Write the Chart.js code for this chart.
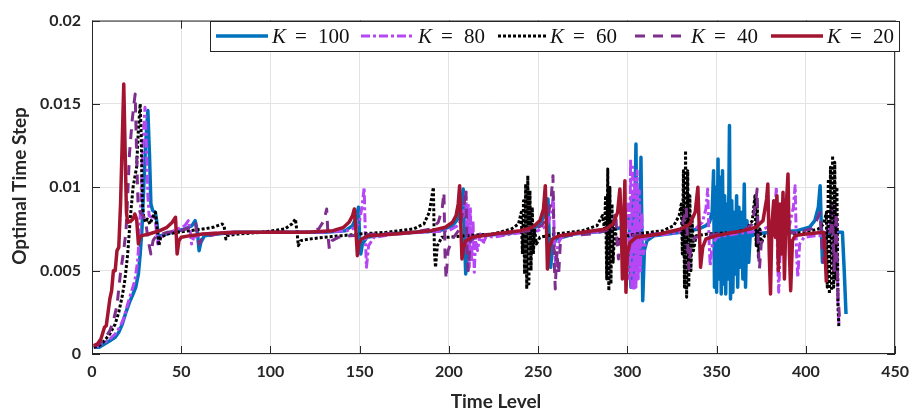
<!DOCTYPE html>
<html>
<head>
<meta charset="utf-8">
<script src="https://cdn.jsdelivr.net/npm/chart.js@4.4.1/dist/chart.umd.min.js"></script>
<style>
  html, body { margin: 0; padding: 0; background: #fff; }
  #wrap { width: 917px; height: 413px; position: relative; }
</style>
</head>
<body>
<div id="wrap"><canvas id="stepChart"></canvas></div>
<script>
// tick values and labels
const xTicks = [0, 50, 100, 150, 200, 250, 300, 350, 400, 450];
const yTicks = [0, 0.005, 0.01, 0.015, 0.02];
const yTickLabels = ["0", "0.005", "0.01", "0.015", "0.02"];
const kValues = ["100", "80", "60", "40", "20"];

// [time level, optimal time step]
const k100 = [
  [1,0.0004],[4,0.0004],[7,0.0006],[10,0.0008],[13,0.0010],[15,0.0013],[17,0.0018],[19,0.0025],
  [21,0.0031],[23,0.0036],[24.5,0.0040],[26,0.0048],[27,0.0060],[28,0.0075],[29,0.0100],[30,0.0125],
  [31.3,0.0146],[32.2,0.0120],[33,0.0090],[34,0.0086],[35.5,0.0085],[36.5,0.0078],[37.2,0.0069],
  [38.5,0.0071],[45,0.0073],[52,0.0075],[56,0.0077],[57.8,0.0080],[59,0.0074],[60,0.0062],[61,0.0067],
  [63,0.0071],[70,0.0072],[80,0.0073],[130,0.0073],[142,0.0074],[146,0.0077],[148,0.0082],[149.3,0.0088],
  [150,0.0068],[150.6,0.0060],[151.5,0.0066],[154,0.0070],[165,0.0072],[195,0.0074],[202,0.0077],
  [205,0.0081],[207,0.0088],[208,0.0099],[208.7,0.0070],[209.4,0.0048],[210.5,0.0063],[212,0.0068],
  [216,0.0071],[230,0.0072],[245,0.0074],[250,0.0077],[253,0.0082],[255.5,0.0093],[256.2,0.0070],
  [257,0.0052],[258,0.0064],[260,0.0069],[270,0.0072],[290,0.0074],[297,0.0076],[299,0.0078],
  [301,0.0082],[302,0.0040],[303,0.0095],[303.6,0.0045],[304.8,0.0126],[305.5,0.0050],[306.3,0.0090],
  [307,0.0055],[307.6,0.0118],[308.6,0.0032],[309.5,0.0062],[311,0.0068],[315,0.0071],[330,0.0073],
  [340,0.0075],[344,0.0077],[346,0.0079],[347.5,0.0085],[348.3,0.0110],[348.8,0.0040],[349.5,0.0100],
  [350,0.0037],[350.8,0.0117],[351.4,0.0045],[352,0.0106],[352.6,0.0036],[353.3,0.0110],[353.9,0.0042],
  [354.5,0.0095],[355.1,0.0036],[355.8,0.0090],[356.4,0.0045],[357.2,0.0137],[357.8,0.0033],
  [358.5,0.0092],[359.1,0.0037],[359.8,0.0085],[360.4,0.0048],[361.2,0.0095],[361.8,0.0040],
  [362.5,0.0088],[363.2,0.0052],[364,0.0085],[364.7,0.0045],[365.5,0.0102],[366.2,0.0040],
  [367,0.0080],[368,0.0055],[369,0.0075],[370,0.0071],[372,0.0072],[380,0.0073],[395,0.0074],
  [402,0.0076],[405,0.0080],[407,0.0088],[408,0.0101],[408.7,0.0075],[409.3,0.0055],[410.2,0.0066],
  [412,0.0071],[416,0.0073],[420.5,0.0073],[421.5,0.0050],[422.5,0.0024]
];

const k80 = [
  [1,0.0004],[4,0.0005],[7,0.0007],[10,0.0009],[13,0.0012],[16,0.0017],[18,0.0022],[20,0.0030],
  [22,0.0037],[24,0.0044],[25.5,0.0055],[26.5,0.0070],[27.5,0.0095],[28.5,0.0125],[29.7,0.0148],
  [30.5,0.0125],[31.3,0.0095],[32,0.0083],[33.5,0.0082],[35,0.0083],[36,0.0075],[36.8,0.0066],
  [38,0.0070],[42,0.0072],[48,0.0075],[52,0.0077],[54,0.0080],[55,0.0074],[55.8,0.0066],[57,0.0070],
  [62,0.0072],[75,0.0073],[130,0.0073],[143,0.0074],[148,0.0076],[150,0.0080],[151.5,0.0090],
  [152.5,0.0100],[153.2,0.0070],[153.8,0.0052],[155,0.0065],[158,0.0070],[170,0.0072],[200,0.0074],
  [205,0.0077],[208,0.0083],[209.5,0.0097],[210.2,0.0060],[210.8,0.0090],[211.4,0.0052],[212,0.0088],
  [212.7,0.0055],[213.5,0.0080],[214.2,0.0049],[215,0.0070],[216,0.0062],[217.5,0.0072],[219,0.0066],
  [221,0.0071],[225,0.0070],[235,0.0072],[250,0.0074],[255,0.0077],[257.5,0.0085],[258.5,0.0095],
  [259.2,0.0062],[260,0.0052],[261,0.0066],[263,0.0070],[270,0.0072],[290,0.0074],[296,0.0076],
  [299,0.0080],[300.5,0.0090],[301.2,0.0045],[301.8,0.0117],[302.4,0.0040],[303,0.0112],[303.6,0.0038],
  [304.2,0.0105],[304.8,0.0040],[305.5,0.0110],[306.1,0.0045],[306.7,0.0098],[307.3,0.0050],
  [308,0.0085],[309,0.0060],[310.5,0.0070],[315,0.0071],[330,0.0073],[338,0.0075],[342,0.0079],
  [344,0.0087],[345,0.0099],[345.7,0.0070],[346.4,0.0053],[347.5,0.0065],[350,0.0070],[360,0.0072],
  [375,0.0074],[380,0.0077],[382.5,0.0085],[383.5,0.0100],[384.2,0.0055],[384.8,0.0037],[385.8,0.0068],
  [388,0.0072],[391,0.0078],[393,0.0088],[394,0.0101],[394.8,0.0060],[395.5,0.0046],[396.5,0.0066],
  [399,0.0070],[405,0.0071],[410,0.0071],[413,0.0075],[414.5,0.0090],[415.3,0.0055],[416,0.0085],
  [416.7,0.0045],[417.3,0.0080],[418,0.0030],[418.6,0.0017]
];

const k60 = [
  [1,0.0004],[4,0.0005],[7,0.0008],[10,0.0012],[13,0.0018],[15,0.0025],[17,0.0035],[18.5,0.0045],
  [20,0.0060],[21.5,0.0082],[23,0.0100],[25,0.0112],[26,0.0135],[27,0.0150],[27.6,0.0130],[28.2,0.0090],
  [29,0.0082],[30,0.0079],[31,0.0081],[32.5,0.0078],[34,0.0082],[35.5,0.0085],[36.5,0.0075],
  [37.5,0.0065],[38.5,0.0070],[42,0.0072],[48,0.0073],[55,0.0074],[62,0.0075],[68,0.0076],[73,0.0078],
  [74,0.0077],[75,0.0069],[76,0.0071],[82,0.0072],[95,0.0073],[108,0.0075],[112,0.0078],[114,0.0081],
  [115,0.0072],[115.6,0.0065],[117,0.0068],[122,0.0069],[130,0.0070],[140,0.0071],[150,0.0072],
  [165,0.0073],[180,0.0075],[186,0.0078],[189,0.0085],[190.5,0.0095],[191.3,0.0100],[191.9,0.0060],
  [192.5,0.0052],[193.5,0.0065],[196,0.0070],[200,0.0070],[210,0.0071],[225,0.0072],[235,0.0075],
  [239,0.0078],[240.5,0.0085],[241.2,0.0060],[241.8,0.0092],[242.4,0.0048],[243,0.0102],[243.6,0.0039],
  [244.2,0.0107],[244.8,0.0042],[245.4,0.0098],[246,0.0050],[246.7,0.0088],[247.3,0.0060],[248,0.0075],
  [249,0.0066],[251,0.0070],[260,0.0072],[275,0.0074],[283,0.0077],[286,0.0083],[287.2,0.0075],
  [287.8,0.0095],[288.4,0.0045],[289,0.0111],[289.6,0.0038],[290.2,0.0100],[290.8,0.0042],[291.4,0.0090],
  [292,0.0055],[293,0.0078],[294,0.0066],[296,0.0070],[305,0.0072],[320,0.0074],[326,0.0077],
  [329,0.0083],[330.2,0.0090],[330.8,0.0060],[331.4,0.0110],[332,0.0040],[332.6,0.0122],[333.2,0.0034],
  [333.8,0.0110],[334.4,0.0040],[335,0.0095],[335.6,0.0050],[336.3,0.0080],[337,0.0062],[338.5,0.0071],
  [345,0.0072],[360,0.0073],[367,0.0075],[370,0.0080],[371.5,0.0095],[372.2,0.0065],[372.8,0.0090],
  [373.4,0.0058],[374.2,0.0075],[375,0.0067],[377,0.0071],[390,0.0072],[400,0.0073],[407,0.0075],
  [410,0.0078],[411.5,0.0085],[412,0.0040],[412.6,0.0105],[413.2,0.0036],[413.8,0.0112],[414.4,0.0038],
  [415,0.0119],[415.6,0.0040],[416.2,0.0115],[416.8,0.0045],[417.4,0.0100],[418,0.0030],[418.5,0.0016]
];

const k40 = [
  [1,0.0005],[4,0.0006],[7,0.0009],[10,0.0014],[12,0.0020],[14,0.0029],[16,0.0049],[17.5,0.0060],
  [19,0.0073],[20,0.0095],[21,0.0120],[22.5,0.0140],[23.5,0.0150],[24.2,0.0156],[25,0.0120],
  [25.8,0.0090],[27,0.0085],[28.5,0.0083],[30,0.0080],[31.5,0.0068],[33,0.0060],[34.2,0.0068],
  [36,0.0071],[42,0.0073],[50,0.0074],[55,0.0076],[58,0.0079],[59,0.0070],[60,0.0066],[62,0.0070],
  [70,0.0072],[90,0.0073],[120,0.0073],[127,0.0075],[130,0.0080],[131.5,0.0087],[132.3,0.0070],
  [133,0.0063],[134.5,0.0068],[138,0.0070],[145,0.0071],[160,0.0072],[180,0.0073],[190,0.0075],
  [194,0.0079],[196.2,0.0087],[197.2,0.0097],[197.8,0.0060],[198.4,0.0045],[199.5,0.0062],[202,0.0069],
  [206,0.0075],[208.5,0.0090],[209.5,0.0099],[210.2,0.0060],[210.8,0.0050],[212,0.0068],[215,0.0071],
  [230,0.0072],[245,0.0074],[252,0.0077],[255,0.0082],[257,0.0090],[258.3,0.0107],[259,0.0055],
  [259.6,0.0039],[260.4,0.0062],[261.5,0.0048],[262.5,0.0068],[265,0.0071],[280,0.0072],[288,0.0074],
  [292,0.0077],[293.5,0.0085],[294.3,0.0065],[295,0.0057],[296,0.0068],[300,0.0071],[315,0.0072],
  [328,0.0074],[331,0.0078],[333,0.0088],[333.8,0.0066],[334.4,0.0051],[335.5,0.0065],[338,0.0070],
  [350,0.0072],[365,0.0074],[370,0.0078],[372,0.0092],[372.7,0.0099],[373.3,0.0065],[374,0.0051],
  [375,0.0066],[377,0.0071],[395,0.0073],[403,0.0075],[406,0.0080],[408,0.0085],[409,0.0065],
  [409.8,0.0055],[411,0.0069],[413,0.0071],[415,0.0080],[416,0.0050],[417,0.0085],[418,0.0035],
  [419,0.0020]
];

const k20 = [
  [1,0.0005],[3,0.0006],[5,0.0009],[7,0.0016],[8,0.0017],[10,0.0033],[11,0.0038],[12,0.0050],
  [13,0.0050],[14,0.0062],[15,0.0064],[16,0.0090],[17,0.0130],[17.8,0.0162],[18.6,0.0120],
  [19.3,0.0085],[20,0.0079],[22,0.0080],[23,0.0081],[24,0.0084],[25,0.0081],[26,0.0066],[26.8,0.0070],
  [28,0.0071],[32,0.0072],[38,0.0074],[42,0.0076],[45,0.0079],[46.8,0.0082],[47.7,0.0060],
  [48.7,0.0068],[50,0.0070],[55,0.0071],[62,0.0072],[80,0.0073],[120,0.0073],[135,0.0074],
  [141,0.0076],[144,0.0079],[146,0.0083],[147,0.0087],[148,0.0072],[148.7,0.0059],[149.5,0.0066],
  [151,0.0069],[155,0.0071],[170,0.0072],[190,0.0074],[198,0.0076],[202,0.0079],[204,0.0083],
  [205.2,0.0090],[206,0.0101],[206.6,0.0080],[207.3,0.0057],[208.2,0.0064],[209.5,0.0068],[213,0.0070],
  [225,0.0072],[240,0.0074],[247,0.0076],[251,0.0080],[253,0.0087],[254,0.0101],[254.6,0.0080],
  [255.2,0.0051],[256.3,0.0064],[258,0.0069],[262,0.0071],[275,0.0073],[288,0.0075],[292,0.0078],
  [294.5,0.0085],[295.8,0.0099],[296.6,0.0078],[297.2,0.0045],[298,0.0080],[298.6,0.0104],
  [299.2,0.0037],[300,0.0060],[301.5,0.0067],[305,0.0070],[318,0.0072],[330,0.0075],[335,0.0078],
  [338,0.0085],[339.5,0.0100],[340.3,0.0075],[341,0.0052],[342.2,0.0064],[344,0.0069],[350,0.0071],
  [365,0.0074],[372,0.0076],[376,0.0080],[378,0.0093],[378.7,0.0102],[379.5,0.0060],[380.2,0.0036],
  [381,0.0078],[382,0.0092],[383,0.0070],[383.8,0.0095],[384.6,0.0050],[385.5,0.0090],[386.3,0.0060],
  [387.2,0.0097],[388,0.0045],[389,0.0088],[390,0.0108],[390.8,0.0060],[391.5,0.0038],[392.5,0.0068],
  [394,0.0071],[400,0.0072],[410,0.0073],[410.8,0.0060],[411.5,0.0043]
];

const series = [
  { data: k100, color: "#0072BD", dash: [], width: 3.5, order: 5 },
  { data: k80, color: "#B746F5", dash: [9, 3, 3, 3], width: 3, order: 4 },
  { data: k60, color: "#000000", dash: [3, 2], width: 3, order: 3 },
  { data: k40, color: "#7E2F8E", dash: [10, 8], width: 3, order: 2 },
  { data: k20, color: "#A2142F", dash: [], width: 3.5, order: 1 },
];

const axisColor = "#262626";
const tickFont = { family: "Lato", weight: "bold", size: 16 };

const framePlugin = {
  id: "frame",
  afterDraw(chart) {
    const ctx = chart.ctx;
    const a = chart.chartArea;
    const xs = chart.scales.x;
    const ys = chart.scales.y;
    ctx.save();

    // box and inward ticks like the original axes
    ctx.strokeStyle = axisColor;
    ctx.lineWidth = 1;
    ctx.strokeRect(a.left + 0.5, a.top + 0.5, a.right - a.left - 1, a.bottom - a.top - 1);
    const tl = 8;
    ctx.beginPath();
    xTicks.forEach((v) => {
      const px = Math.round(xs.getPixelForValue(v)) + 0.5;
      ctx.moveTo(px, a.bottom);
      ctx.lineTo(px, a.bottom - tl);
      ctx.moveTo(px, a.top);
      ctx.lineTo(px, a.top + tl);
    });
    yTicks.forEach((v) => {
      const py = Math.round(ys.getPixelForValue(v)) + 0.5;
      ctx.moveTo(a.left, py);
      ctx.lineTo(a.left + tl, py);
      ctx.moveTo(a.right, py);
      ctx.lineTo(a.right - tl, py);
    });
    ctx.stroke();

    // axis titles
    ctx.fillStyle = axisColor;
    ctx.font = "bold 19px Lato";
    ctx.textAlign = "center";
    ctx.textBaseline = "alphabetic";
    ctx.fillText("Time Level", 496, 408);
    ctx.save();
    ctx.translate(26, 186);
    ctx.rotate(-Math.PI / 2);
    ctx.fillText("Optimal Time Step", 0, 0);
    ctx.restore();

    // legend
    const bx = 210, by = 21, bw = 689, bh = 30;
    ctx.fillStyle = "#ffffff";
    ctx.fillRect(bx, by, bw, bh);
    ctx.strokeStyle = axisColor;
    ctx.lineWidth = 1;
    ctx.strokeRect(bx + 0.5, by + 0.5, bw, bh);
    const lineStart = [216, 361, 498, 635, 771];
    const lineEnd = [268, 414, 546, 687, 823];
    const ly = 36;
    series.forEach((s, i) => {
      ctx.strokeStyle = s.color;
      ctx.lineWidth = s.width;
      ctx.setLineDash(s.dash);
      ctx.beginPath();
      ctx.moveTo(lineStart[i], ly);
      ctx.lineTo(lineEnd[i], ly);
      ctx.stroke();
      ctx.setLineDash([]);
      const kx = lineEnd[i] + 4;
      ctx.fillStyle = "#111111";
      ctx.textAlign = "left";
      ctx.textBaseline = "alphabetic";
      ctx.font = "italic 21px 'Liberation Serif'";
      ctx.fillText("K", kx, 43);
      ctx.font = "21px 'Liberation Serif'";
      ctx.fillText("=", kx + 23, 43);
      ctx.fillText(kValues[i], kx + 46, 43);
    });
    ctx.restore();
  },
};

const ctx = document.getElementById("stepChart").getContext("2d");
const stepChart = new Chart(ctx, {
  type: "line",
  data: {
    datasets: series.map((s, i) => ({
      label: "K = " + kValues[i],
      data: s.data.map((p) => ({ x: p[0], y: p[1] })),
      borderColor: s.color,
      backgroundColor: s.color,
      borderWidth: s.width,
      borderDash: s.dash,
      borderJoinStyle: "round",
      pointRadius: 0,
      tension: 0,
      fill: false,
      order: s.order,
    })),
  },
  options: {
    responsive: true,
    maintainAspectRatio: false,
    animation: false,
    layout: { padding: { top: 18, right: 16, left: 0, bottom: 0 } },
    plugins: {
      legend: { display: false },
      tooltip: { enabled: false },
    },
    scales: {
      x: {
        type: "linear",
        min: 0,
        max: 450,
        afterBuildTicks: (scale) => {
          scale.ticks = xTicks.map((v) => ({ value: v }));
        },
        afterFit: (scale) => {
          scale.height = 59;
        },
        ticks: {
          color: axisColor,
          font: tickFont,
          padding: 8,
          maxRotation: 0,
          callback: (v) => String(v),
        },
        grid: { color: "#e3e3e3", drawTicks: false },
        border: { display: false },
      },
      y: {
        type: "linear",
        min: 0,
        max: 0.02,
        afterBuildTicks: (scale) => {
          scale.ticks = yTicks.map((v) => ({ value: v }));
        },
        afterFit: (scale) => {
          scale.width = 92;
        },
        ticks: {
          color: axisColor,
          font: tickFont,
          padding: 11,
          callback: (v, i) => yTickLabels[i],
        },
        grid: { color: "#e3e3e3", drawTicks: false },
        border: { display: false },
      },
    },
  },
  plugins: [framePlugin],
});
</script>
</body>
</html>
